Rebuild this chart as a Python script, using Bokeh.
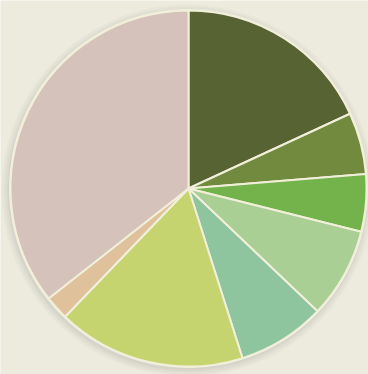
import numpy as np
from bokeh.plotting import figure
from bokeh.models import ColumnDataSource
from bokeh.embed import file_html
from bokeh.resources import INLINE

categories = ["A", "B", "C", "D", "E", "F", "G", "H"]
values = [18.1, 5.6, 5.2, 8.2, 8.0, 17.1, 2.2, 35.6]
colors = ["#576333", "#728a3e", "#74b24c", "#aacf95", "#8ec49e", "#c5d46f", "#dfc29b", "#d5c3bb"]

W, H = 368, 374
cx, cy, r = 188, H - 188, 178

vals = np.array(values, dtype=float)
frac = vals / vals.sum()
cum = np.concatenate([[0], np.cumsum(frac)])
start = np.pi / 2 - 2 * np.pi * cum[:-1]
end = np.pi / 2 - 2 * np.pi * cum[1:]

src = ColumnDataSource(dict(cat=categories, val=values, color=colors, start=start, end=end))

p = figure(width=W, height=H, x_range=(0, W), y_range=(0, H),
           output_backend="svg", toolbar_location=None, min_border=0)
p.axis.visible = False
p.grid.visible = False
p.outline_line_color = None
p.background_fill_color = "#ecebdd"
p.border_fill_color = "#ecebdd"

# soft shadow
for k, a in [(8, 0.04), (6, 0.05), (4, 0.06), (2, 0.08)]:
    p.circle(x=cx - 1, y=cy - 2, radius=r + k, fill_color="#8a8c80", fill_alpha=a, line_color=None)
p.circle(x=cx, y=cy, radius=r + 1.5, fill_color="#f2f0de", line_color=None)

p.wedge(x=cx, y=cy, radius=r, start_angle="start", end_angle="end", direction="clock",
        fill_color="color", line_color="#f1efda", line_width=2, source=src)

html = file_html(p, INLINE)
html = html.replace("<body>", '<body style="background:#ecebdd">', 1)
open("out.html", "w").write(html)
